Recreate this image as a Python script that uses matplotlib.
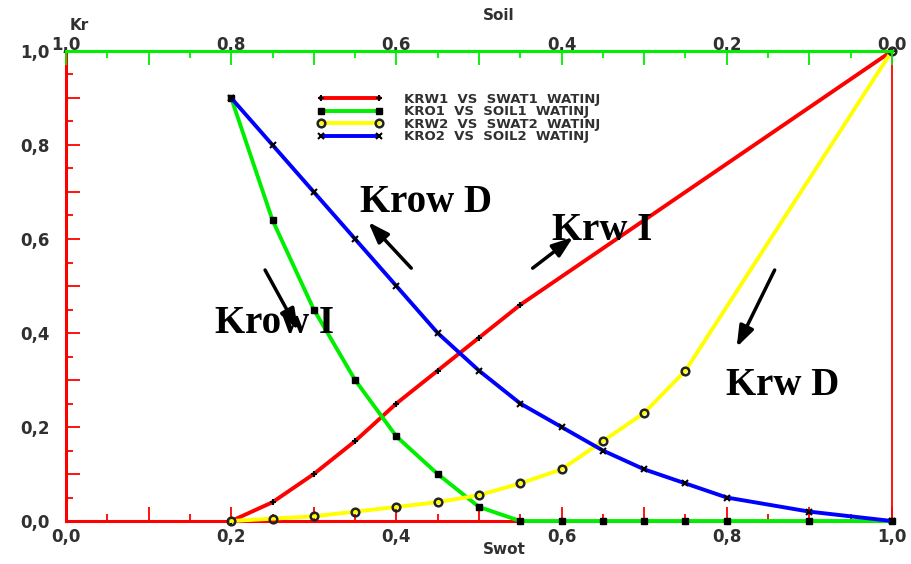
import matplotlib.pyplot as plt
from matplotlib.ticker import MultipleLocator, FuncFormatter

# relative permeability curves
swat1 = [0.2, 0.25, 0.3, 0.35, 0.4, 0.45, 0.5, 0.55, 1.0]
krw1 = [0.0, 0.04, 0.10, 0.17, 0.25, 0.32, 0.39, 0.46, 1.0]

soil1_x = [0.2, 0.25, 0.3, 0.35, 0.4, 0.45, 0.5, 0.55, 0.6, 0.65, 0.7, 0.75, 0.8, 0.9, 1.0]
kro1 = [0.9, 0.64, 0.45, 0.30, 0.18, 0.10, 0.03, 0.0, 0.0, 0.0, 0.0, 0.0, 0.0, 0.0, 0.0]

swat2 = [0.2, 0.25, 0.3, 0.35, 0.4, 0.45, 0.5, 0.55, 0.6, 0.65, 0.7, 0.75, 1.0]
krw2 = [0.0, 0.005, 0.01, 0.02, 0.03, 0.04, 0.055, 0.08, 0.11, 0.17, 0.23, 0.32, 1.0]

soil2_x = [0.2, 0.25, 0.3, 0.35, 0.4, 0.45, 0.5, 0.55, 0.6, 0.65, 0.7, 0.75, 0.8, 0.9, 1.0]
kro2 = [0.9, 0.8, 0.7, 0.6, 0.5, 0.4, 0.32, 0.25, 0.2, 0.15, 0.11, 0.08, 0.05, 0.02, 0.0]

legend_labels = ['KRW1  VS  SWAT1  WATINJ', 'KRO1  VS  SOIL1  WATINJ',
                 'KRW2  VS  SWAT2  WATINJ', 'KRO2  VS  SOIL2  WATINJ']

RED = '#ff0000'
GREEN = '#00ee00'
TXT = '#303030'


def comma_fmt(step):
    def f(v, pos):
        if abs(round(v / step) - v / step) > 1e-6:
            return ''
        return f'{abs(v):.1f}'.replace('.', ',')
    return FuncFormatter(f)


fig = plt.figure(figsize=(9.12, 5.64), dpi=100)
ax = fig.add_axes([0.0724, 0.0762, 0.9056, 0.8334])

lw = 2.8
ax.plot(swat1, krw1, color=RED, lw=lw, marker='+', ms=5, mec='black', mew=1.5,
        label=legend_labels[0], clip_on=False, zorder=3)
ax.plot(soil1_x, kro1, color=GREEN, lw=lw, marker='s', ms=4, mfc='black', mec='black',
        label=legend_labels[1], clip_on=False, zorder=3)
ax.plot(swat2, krw2, color='#ffff00', lw=lw, marker='o', ms=5.5, mfc='none', mec='#222222', mew=1.8,
        label=legend_labels[2], clip_on=False, zorder=3)
ax.plot(soil2_x, kro2, color='#0000ff', lw=lw, marker='x', ms=5, mec='black', mew=1.5,
        label=legend_labels[3], clip_on=False, zorder=3)

ax.set_xlim(0, 1)
ax.set_ylim(0, 1)

for s in ['left', 'bottom']:
    ax.spines[s].set_color(RED)
    ax.spines[s].set_linewidth(2.2)
ax.spines['right'].set_color(RED)
ax.spines['right'].set_linewidth(1.3)
ax.spines['top'].set_visible(False)

ax.xaxis.set_major_locator(MultipleLocator(0.1))
ax.xaxis.set_minor_locator(MultipleLocator(0.05))
ax.yaxis.set_major_locator(MultipleLocator(0.1))
ax.yaxis.set_minor_locator(MultipleLocator(0.05))
ax.xaxis.set_major_formatter(comma_fmt(0.2))
ax.yaxis.set_major_formatter(comma_fmt(0.2))
ax.tick_params(which='major', direction='in', length=10, width=1.3, color=RED,
               labelsize=12, labelcolor=TXT)
ax.tick_params(which='minor', direction='in', length=5, width=1.3, color=RED)
ax.tick_params(axis='x', which='major', pad=5)
ax.tick_params(axis='y', which='major', pad=12)
for t in ax.get_xticklabels() + ax.get_yticklabels():
    t.set_fontweight('bold')

# top axis: oil saturation runs the other way
top = ax.twiny()
top.set_xlim(1, 0)
for s in ['left', 'bottom', 'right']:
    top.spines[s].set_visible(False)
top.spines['top'].set_color(GREEN)
top.spines['top'].set_linewidth(2.2)
top.xaxis.set_major_locator(MultipleLocator(0.1))
top.xaxis.set_minor_locator(MultipleLocator(0.05))
top.xaxis.set_major_formatter(comma_fmt(0.2))
top.tick_params(which='major', direction='in', length=10, width=1.3, color=GREEN,
                labelsize=12, labelcolor=TXT, pad=-2)
top.tick_params(which='minor', direction='in', length=5, width=1.3, color=GREEN)
for t in top.get_xticklabels():
    t.set_fontweight('bold')

fig.text(0.087, 0.954, 'Kr', fontsize=11, fontweight='bold', color=TXT, ha='center', va='center')
fig.text(0.547, 0.973, 'Soil', fontsize=11, fontweight='bold', color=TXT, ha='center', va='center')
fig.text(0.553, 0.025, 'Swot', fontsize=11, fontweight='bold', color=TXT, ha='center', va='center')

leg = ax.legend(loc='upper left', bbox_to_anchor=(0.296, 0.925), frameon=False,
                numpoints=2, handlelength=5.0, handletextpad=1.6, labelspacing=-0.04,
                borderpad=0, prop={'size': 9.5, 'weight': 'bold'})
for t in leg.get_texts():
    t.set_color(TXT)

# hand-drawn style labels with arrows
serif = {'family': 'Liberation Serif', 'weight': 'bold', 'size': 28}
ax.text(0.436, 0.677, 'Krow D', ha='center', va='center', **serif)
ax.text(0.253, 0.421, 'Krow I', ha='center', va='center', **serif)
ax.text(0.649, 0.619, 'Krw I', ha='center', va='center', **serif)
ax.text(0.868, 0.289, 'Krw D', ha='center', va='center', **serif)

arrow = dict(arrowstyle='-|>,head_length=0.7,head_width=0.25', color='black', lw=2.5,
             mutation_scale=18, shrinkA=0, shrinkB=0)
ax.annotate('', xy=(0.366, 0.636), xytext=(0.418, 0.538), arrowprops=arrow)
ax.annotate('', xy=(0.281, 0.406), xytext=(0.241, 0.534), arrowprops=arrow)
ax.annotate('', xy=(0.614, 0.604), xytext=(0.565, 0.538), arrowprops=arrow)
ax.annotate('', xy=(0.812, 0.370), xytext=(0.858, 0.534), arrowprops=arrow)

plt.savefig('out.png', dpi=100)
